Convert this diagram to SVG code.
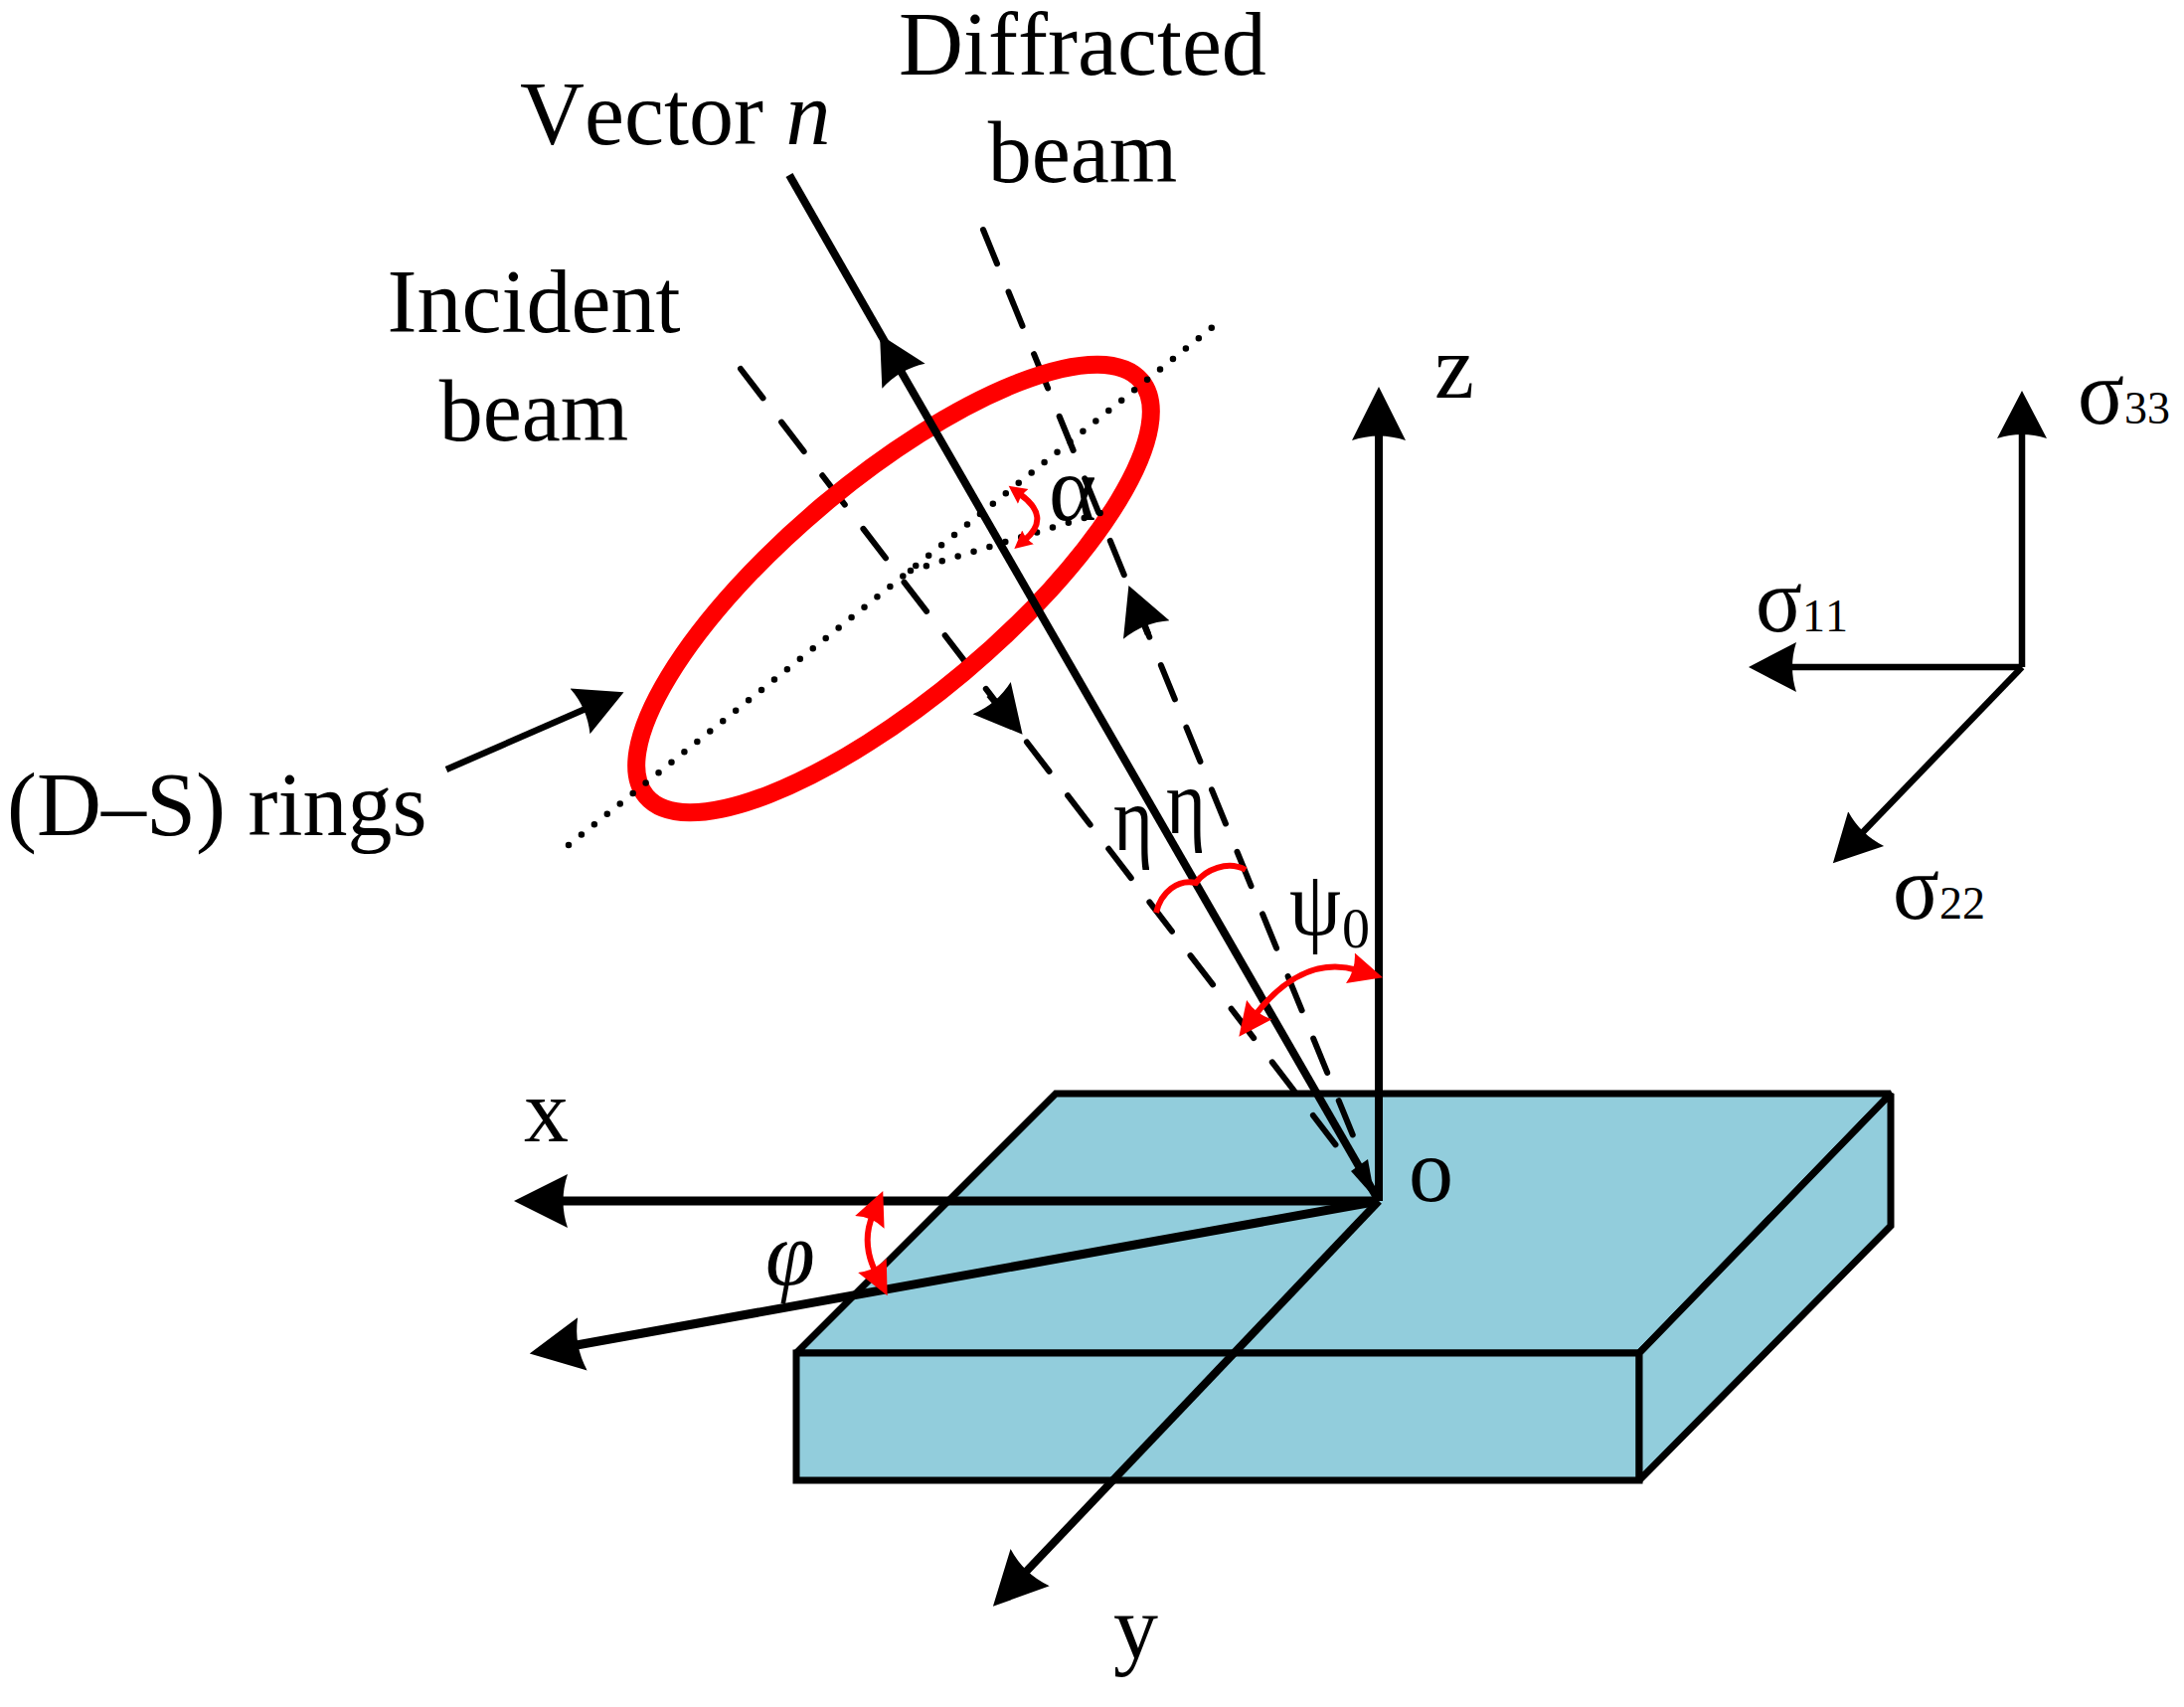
<svg xmlns="http://www.w3.org/2000/svg" width="2197" height="1717" viewBox="0 0 2197 1717">
<style>
text{font-family:"Liberation Serif","Times New Roman",serif;fill:#000;font-kerning:none}
.t{font-size:90px}
.b{font-size:88px}
.g{font-size:94px}
.s{font-size:46px}
.i{font-style:italic}
.l{fill:none;stroke:#000;stroke-width:8}
.th{stroke-width:9}
.n{stroke-width:6.5}
.d{fill:none;stroke:#000;stroke-width:6;stroke-linecap:round;stroke-dasharray:37 30.6}
.dot{fill:none;stroke:#000;stroke-width:6.5;stroke-linecap:round;stroke-dasharray:0 16.6}
.r{fill:none;stroke:#f00;stroke-width:6}
.slab{fill:#92CDDC;stroke:#000;stroke-width:7;stroke-linejoin:miter;stroke-miterlimit:2}
.big{marker-end:url(#hL)}
.mid{marker-end:url(#hM)}
.rr{marker-start:url(#hR);marker-end:url(#hR)}
.rs{marker-start:url(#hS);marker-end:url(#hS)}
</style>
<defs>
<marker id="hL" markerUnits="userSpaceOnUse" viewBox="0 -28 56 56" markerWidth="56" markerHeight="56" refX="6" refY="0" orient="auto"><path d="M54,0L0,-27Q9,0 0,27Z"/></marker>
<marker id="hM" markerUnits="userSpaceOnUse" viewBox="0 -26 50 52" markerWidth="50" markerHeight="52" refX="6" refY="0" orient="auto"><path d="M48,0L0,-25Q8,0 0,25Z"/></marker>
<marker id="hR" markerUnits="userSpaceOnUse" viewBox="0 -17 36 34" markerWidth="36" markerHeight="34" refX="8" refY="0" orient="auto-start-reverse"><path d="M34,0L0,-16Q6,0 0,16Z" fill="#f00"/></marker>
<marker id="hS" markerUnits="userSpaceOnUse" viewBox="0 -10 20 20" markerWidth="20" markerHeight="20" refX="4" refY="0" orient="auto-start-reverse"><path d="M18,0L0,-9Q3,0 0,9Z" fill="#f00"/></marker>
</defs>

<g id="slab">
<path class="slab" d="M801,1361L1062,1100H1902L1649,1361Z"/>
<path class="slab" d="M801,1361H1649V1489H801Z"/>
<path class="slab" d="M1649,1361L1902,1100V1233L1649,1489Z"/>
</g>

<g id="connectors">
<path class="d" d="M745,371L1347,1156"/>
<path class="d" d="M989,231L1363,1147"/>
<path class="l n mid" d="M995,699L1001.5,706.7"/>
<path class="l n mid" d="M1155,638L1151,628"/>
<polygon points="1383,1205 1376,1166 1359,1178"/>
<ellipse id="ring" cx="899" cy="592" rx="325" ry="110" transform="rotate(-40 899 592)" fill="none" stroke="#f00" stroke-width="18"/>
<path class="l" d="M794,176L900,361"/>
<path class="l mid" d="M1387,1208L906,373"/>
<path class="dot" d="M572,850L1221,328"/>
<path class="dot" d="M916,574L1107,516"/>
<path class="l n mid" d="M449,774L589,713"/>
<path class="l big" d="M1387,1208V437"/>
<path class="l th big" d="M1387,1208H565"/>
<path class="l th big" d="M1387,1208L580,1353"/>
<path class="l big" d="M1387,1208L1032,1581"/>
<path class="l n mid" d="M2034,671V435"/>
<path class="l n mid" d="M2034,671H1801"/>
<path class="l n mid" d="M2034,671L1873,838"/>
<path class="r rs" d="M1026,497Q1058,520 1031,543"/>
<path class="r rr" d="M1262,1022C1290,985 1325,964 1366,976"/>
<path class="r" d="M1163,918C1168,897 1185,884 1203,888C1212,875 1235,865 1253,875"/>
<path class="r rr" d="M878,1222Q866,1250 881,1280"/>
</g>

<g id="labels">
<text class="t" x="1089" y="75" text-anchor="middle">Diffracted</text>
<text class="b" x="1089" y="183" text-anchor="middle">beam</text>
<text class="t" x="523" y="145">Vector <tspan class="i">n</tspan></text>
<text class="t" x="537" y="334" text-anchor="middle">Incident</text>
<text class="b" x="537" y="443" text-anchor="middle">beam</text>
<text class="t" x="7" y="840">(D–S) rings</text>
<text class="t" x="1443" y="400">z</text>
<text class="t" x="527" y="1148">x</text>
<text class="t" x="1120" y="1668">y</text>
<text class="t" x="1417" y="1208">o</text>
<text class="t i" x="770" y="1292">φ</text>
<text class="g" x="1120" y="855" textLength="40" lengthAdjust="spacingAndGlyphs">η</text>
<text class="g" x="1173" y="838" textLength="40" lengthAdjust="spacingAndGlyphs">η</text>
<text class="g" x="1297" y="940" textLength="52" lengthAdjust="spacingAndGlyphs">ψ</text>
<text font-size="56" x="1350" y="953">0</text>
<text class="g" x="1055" y="523" textLength="48" lengthAdjust="spacingAndGlyphs">α</text>
<text class="g" x="2090" y="426" textLength="47" lengthAdjust="spacingAndGlyphs">σ</text>
<text class="s" x="2137" y="426">33</text>
<text class="g" x="1766" y="635" textLength="47" lengthAdjust="spacingAndGlyphs">σ</text>
<text class="s" x="1813" y="635">11</text>
<text class="g" x="1904" y="924" textLength="47" lengthAdjust="spacingAndGlyphs">σ</text>
<text class="s" x="1951" y="924">22</text>
</g>
</svg>
